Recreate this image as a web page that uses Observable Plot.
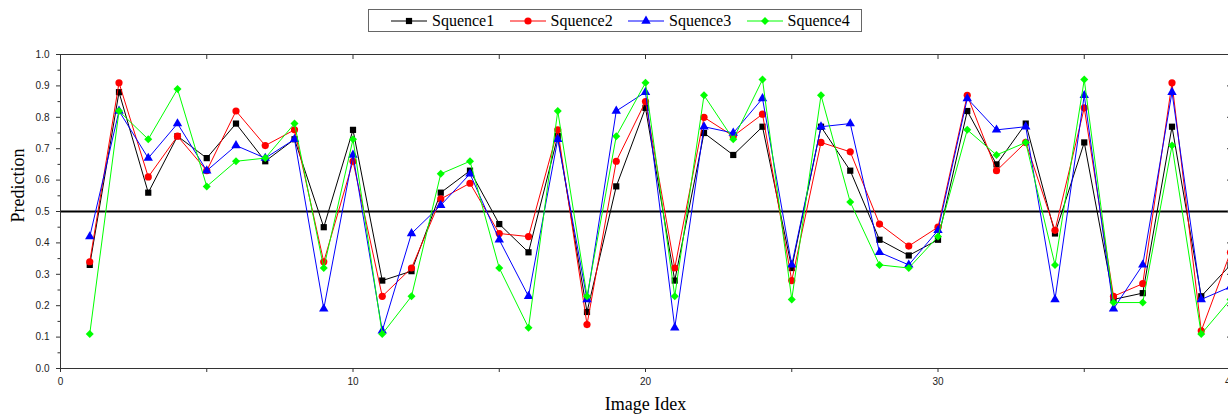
<!DOCTYPE html>
<html>
<head>
<meta charset="utf-8">
<script src="https://cdn.jsdelivr.net/npm/d3@7"></script>
<script src="https://cdn.jsdelivr.net/npm/@observablehq/plot@0.6"></script>
<style>
html, body { margin: 0; padding: 0; background: #fff; overflow: hidden; width: 1228px; height: 414px; }
#legend { position: relative; height: 40px; }
#legend .box { position: absolute; left: 368px; top: 9px; border: 1px solid #666;
  display: flex; align-items: center; padding-left: 22px; box-sizing: border-box; width: 494px; height: 23px;
  font-family: "Liberation Serif", "Times New Roman", serif; font-size: 16px; color: #000; }
#legend .item { flex: 0 0 118.5px; display: flex; align-items: center; white-space: nowrap; }
#legend .item svg { margin-right: 5px; flex: 0 0 auto; }
#chart { display: block; width: 1250px; }
#chart svg { max-width: none !important; }
</style>
</head>
<body>
<div id="legend"><div class="box"></div></div>
<div id="chart"></div>
<script>
// ---- data ----
const imageIndex = [1,2,3,4,5,6,7,8,9,10,11,12,13,14,15,16,17,18,19,20,21,22,23,24,25,26,27,28,29,30,31,32,33,34,35,36,37,38,39,40];
const seriesNames = ["Squence1", "Squence2", "Squence3", "Squence4"];
const seq1 = [0.33,0.88,0.56,0.74,0.67,0.78,0.66,0.73,0.45,0.76,0.28,0.31,0.56,0.63,0.46,0.37,0.74,0.18,0.58,0.83,0.28,0.75,0.68,0.77,0.32,0.77,0.63,0.41,0.36,0.41,0.82,0.65,0.78,0.43,0.72,0.22,0.24,0.77,0.23,0.33];
const seq2 = [0.34,0.91,0.61,0.74,0.63,0.82,0.71,0.76,0.34,0.66,0.23,0.32,0.54,0.59,0.43,0.42,0.76,0.14,0.66,0.85,0.32,0.80,0.74,0.81,0.28,0.72,0.69,0.46,0.39,0.45,0.87,0.63,0.72,0.44,0.83,0.23,0.27,0.91,0.12,0.37];
const seq3 = [0.42,0.82,0.67,0.78,0.63,0.71,0.67,0.73,0.19,0.68,0.12,0.43,0.52,0.62,0.41,0.23,0.73,0.22,0.82,0.88,0.13,0.77,0.75,0.86,0.33,0.77,0.78,0.37,0.33,0.44,0.86,0.76,0.77,0.22,0.87,0.19,0.33,0.88,0.22,0.26];
const seq4 = [0.11,0.82,0.73,0.89,0.58,0.66,0.67,0.78,0.32,0.73,0.11,0.23,0.62,0.66,0.32,0.13,0.82,0.23,0.74,0.91,0.23,0.87,0.73,0.92,0.22,0.87,0.53,0.33,0.32,0.42,0.76,0.68,0.72,0.33,0.92,0.21,0.21,0.71,0.11,0.22];
const threshold = [0.5];
const yTicks = [0,0.1,0.2,0.3,0.4,0.5,0.6,0.7,0.8,0.9,1.0];
const yMinor = [0.05,0.15,0.25,0.35,0.45,0.55,0.65,0.75,0.85,0.95];
const xTicks = [0,10,20,30,40];
const xMinor = [5,15,25,35];
const xTop = [5,10,15,20,25,30,35];
const xLabel = ["Image Idex"];
const yLabel = ["Prediction"];

// ---- styles ----
const colors = ["#000000", "#ff0000", "#0000ff", "#00ff00"];
const symbols = ["square", "circle", "triangle", "diamond2"];
const radii = [3.5, 3.6, 3.5, 3.6];

const allValues = [seq1, seq2, seq3, seq4];
const series = seriesNames.map((name, i) => ({
  name, color: colors[i], symbol: symbols[i], r: radii[i],
  data: imageIndex.map((x, j) => ({x, y: allValues[i][j]}))
}));

// ---- legend ----
const box = document.querySelector("#legend .box");
series.forEach(s => {
  const item = document.createElement("div");
  item.className = "item";
  const sv = d3.create("svg").attr("width", 36).attr("height", 14);
  sv.append("line").attr("x1", 0).attr("x2", 36).attr("y1", 7).attr("y2", 7)
    .attr("stroke", s.color).attr("stroke-width", 1);
  const sym = {square: d3.symbolSquare, circle: d3.symbolCircle, triangle: d3.symbolTriangle, diamond2: d3.symbolDiamond2}[s.symbol];
  sv.append("path").attr("transform", "translate(18,7)")
    .attr("d", d3.symbol(sym, Math.PI * s.r * s.r)()).attr("fill", s.color);
  item.appendChild(sv.node());
  const t = document.createElement("span");
  t.textContent = s.name;
  item.appendChild(t);
  box.appendChild(item);
});

// ---- chart ----
const marks = [
  Plot.ruleY(threshold, {stroke: "#000", strokeWidth: 2})
];
series.forEach(s => {
  marks.push(Plot.line(s.data, {x: "x", y: "y", stroke: s.color, strokeWidth: 1}));
  marks.push(Plot.dot(s.data, {x: "x", y: "y", symbol: () => s.symbol, fill: s.color, r: s.r, stroke: "none"}));
});
marks.push(
  Plot.frame({stroke: "#333", strokeWidth: 1}),
  Plot.axisY({anchor: "left", ticks: yTicks, tickFormat: d3.format(".1f"), tickSize: 4, tickPadding: 7, label: null, fontSize: 10, fill: "#222", stroke: "#333"}),
  Plot.axisY({anchor: "left", ticks: yMinor, tickSize: 2.5, tickFormat: () => "", label: null, stroke: "#333"}),
  Plot.axisY({anchor: "right", ticks: yTicks, tickSize: 4, dx: -4, tickFormat: () => "", label: null, stroke: "#333"}),
  Plot.axisX({anchor: "bottom", ticks: xTicks, tickSize: 4, tickPadding: 5, label: null, fontSize: 10, fill: "#222", stroke: "#333"}),
  Plot.axisX({anchor: "bottom", ticks: xMinor, tickSize: 4, tickFormat: () => "", label: null, stroke: "#333"}),
  Plot.axisX({anchor: "top", ticks: xTop, tickSize: 4, dy: 4, tickFormat: () => "", label: null, stroke: "#333"}),
  Plot.text(yLabel, {frameAnchor: "left", rotate: -90, dx: -42, dy: 11, fontSize: 18, fontFamily: "Liberation Serif", fill: "#000"}),
  Plot.text(xLabel, {frameAnchor: "bottom", dy: 41, fontSize: 18, fontFamily: "Liberation Serif", fill: "#000"})
);

const chart = Plot.plot({
  width: 1250,
  height: 374,
  marginTop: 14,
  marginBottom: 46,
  marginLeft: 60,
  marginRight: 20,
  x: {domain: [0, 40], axis: null},
  y: {domain: [0, 1], axis: null},
  symbol: {type: "identity"},
  style: {fontFamily: "Liberation Sans, Arial, sans-serif", fontSize: "10px", background: "#fff", overflow: "visible", maxWidth: "none"},
  marks
});
document.getElementById("chart").appendChild(chart);
</script>
</body>
</html>
